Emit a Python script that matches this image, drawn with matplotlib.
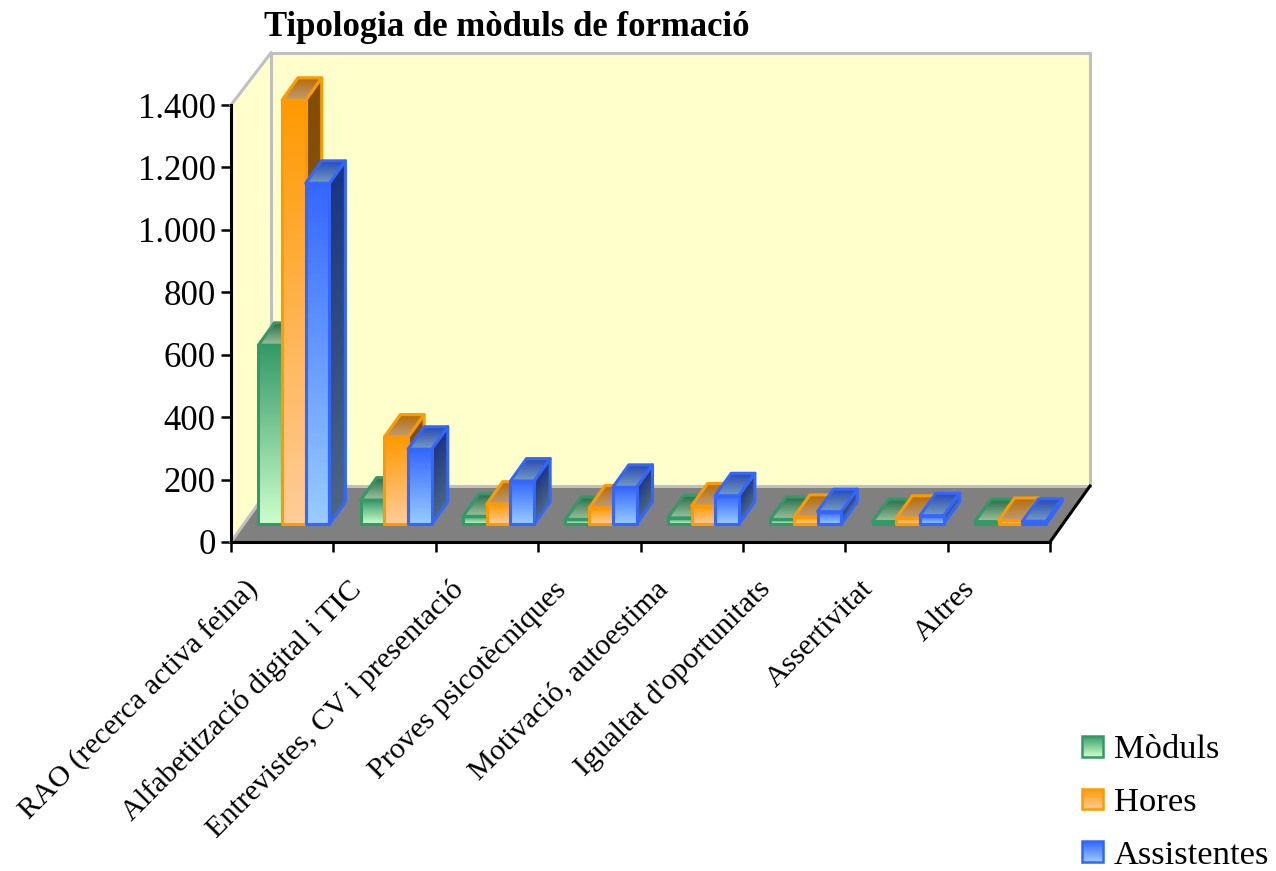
import numpy as np
import matplotlib
matplotlib.use("Agg")
import matplotlib.pyplot as plt
from matplotlib.collections import PolyCollection
from matplotlib.colors import to_rgb
from matplotlib.legend_handler import HandlerBase
from matplotlib.patches import Patch, Polygon
from matplotlib.transforms import ScaledTranslation

categories = ["RAO (recerca activa feina)", "Alfabetització digital i TIC",
              "Entrevistes, CV i presentació", "Proves psicotècniques",
              "Motivació, autoestima", "Igualtat d'oportunitats",
              "Assertivitat", "Altres"]
moduls = [573, 77, 25, 15, 20, 15, 8, 8]
hores = [1358, 279, 64, 52, 58, 22, 19, 12]
assistentes = [1092, 240, 138, 118, 91, 40, 27, 9]
series_names = ["Mòduls", "Hores", "Assistentes"]
series_values = [moduls, hores, assistentes]
main_colors = ["#339966", "#FF9900", "#3366FF"]
light_colors = ["#CCFFCC", "#FFCC99", "#99CCFF"]
y_ticks = [0, 200, 400, 600, 800, 1000, 1200, 1400]
y_labels = ["0", "200", "400", "600", "800", "1.000", "1.200", "1.400"]

plt.rcParams["font.family"] = ["Liberation Serif", "DejaVu Serif"]
W, H = 1276, 871
fig = plt.figure(figsize=(W / 100, H / 100), dpi=100)
ax = fig.add_axes([231 / W, (H - 542) / H, 819 / W, 437 / H])
ax.set_xlim(0, len(categories))
ax.set_ylim(0, 1400)
ax.patch.set_visible(False)

PX_X = len(categories) / 819
PX_Y = 1400 / 437
DX = 40 * PX_X
DY = 56 * PX_Y
BACK_TOP = 1388
D0, D1 = 0.32, 0.72
BAR_W = 23.7 * PX_X
MARGIN = 14.5 * PX_X
LW = 2.2


def proj(x, v, d):
    return (x + d * DX, v + d * DY)


def grad(p0, p1, q0, q1, c0, c1, zorder, trans=None, n=60):
    """Gradient quad: edge p0-p1 has colour c0, edge q0-q1 has colour c1."""
    p0, p1, q0, q1 = map(np.array, (p0, p1, q0, q1))
    c0, c1 = np.array(c0), np.array(c1)
    polys, cols = [], []
    for i in range(n):
        a, b = i / n, (i + 1) / n
        polys.append([p0 + (q0 - p0) * a, p1 + (q1 - p1) * a,
                      p1 + (q1 - p1) * b, p0 + (q0 - p0) * b])
        cols.append(c0 + (c1 - c0) * (a + b) / 2)
    pc = PolyCollection(polys, facecolors=cols, edgecolors=cols, linewidths=0.5,
                        zorder=zorder, clip_on=False, antialiaseds=False)
    if trans is not None:
        pc.set_transform(trans)
    return pc


# walls and floor
wall = "#FFFFCC"
edge = "#C0C0C0"
n = len(categories)
ax.add_patch(Polygon([proj(0, 0, 0), proj(0, 1400, 0), (DX, BACK_TOP + DY), proj(0, 0, 1)],
                     fc=wall, ec="none", clip_on=False, zorder=1))
ax.add_patch(Polygon([proj(0, 0, 1), (DX, BACK_TOP + DY), (n + DX, BACK_TOP + DY), proj(n, 0, 1)],
                     fc=wall, ec="none", clip_on=False, zorder=1))
ax.add_patch(Polygon([proj(0, 0, 0), proj(n, 0, 0), proj(n, 0, 1), proj(0, 0, 1)],
                     fc="#808080", ec="none", clip_on=False, zorder=2))
for a, b, c in [(proj(0, 1400, 0), (DX, BACK_TOP + DY), edge),
                ((DX, BACK_TOP + DY), (n + DX, BACK_TOP + DY), edge),
                ((DX, BACK_TOP + DY), proj(0, 0, 1), edge),
                ((n + DX, BACK_TOP + DY), proj(n, 0, 1), edge),
                (proj(0, 0, 1), proj(n, 0, 1), edge),
                (proj(0, 0, 0), proj(0, 0, 1), edge),
                (proj(n, 0, 0), proj(n, 0, 1), "black")]:
    ax.plot([a[0], b[0]], [a[1], b[1]], color=c, lw=LW, clip_on=False, zorder=2.5,
            solid_capstyle="projecting")

# bars
z = 3.0
for g in range(n):
    for s, values in enumerate(series_values):
        v = values[g]
        main = np.array(to_rgb(main_colors[s]))
        light = np.array(to_rgb(light_colors[s]))
        x0 = g + MARGIN + s * BAR_W
        x1 = x0 + BAR_W
        # side face
        ax.add_collection(grad(proj(x1, v, D0), proj(x1, v, D1), proj(x1, 0, D0), proj(x1, 0, D1),
                               main * 0.5, light * 0.5, z))
        ax.add_patch(Polygon([proj(x1, 0, D0), proj(x1, v, D0), proj(x1, v, D1), proj(x1, 0, D1)],
                             fc="none", ec=main_colors[s], lw=LW, clip_on=False, zorder=z + 0.01,
                             joinstyle="round"))
        # top face
        ax.add_collection(grad(proj(x0, v, D1), proj(x1, v, D1), proj(x0, v, D0), proj(x1, v, D0),
                               main * 0.7, light * 0.75, z + 0.02))
        ax.add_patch(Polygon([proj(x0, v, D0), proj(x1, v, D0), proj(x1, v, D1), proj(x0, v, D1)],
                             fc="none", ec=main_colors[s], lw=LW, clip_on=False, zorder=z + 0.03,
                             joinstyle="round"))
        # front face
        ax.add_collection(grad(proj(x0, v, D0), proj(x1, v, D0), proj(x0, 0, D0), proj(x1, 0, D0),
                               main, light, z + 0.04))
        ax.add_patch(Polygon([proj(x0, 0, D0), proj(x1, 0, D0), proj(x1, v, D0), proj(x0, v, D0)],
                             fc="none", ec=main_colors[s], lw=LW, clip_on=False, zorder=z + 0.05,
                             joinstyle="round"))
        z += 0.1

# axes
for sp in ("top", "right"):
    ax.spines[sp].set_visible(False)
for sp in ("left", "bottom"):
    ax.spines[sp].set_linewidth(LW)
    ax.spines[sp].set_zorder(50)
ax.set_yticks(y_ticks)
ax.set_yticklabels(y_labels, fontsize=25)
ax.tick_params(axis="y", length=7, width=1.8, pad=4)
ax.set_xticks(range(n + 1))
ax.set_xticklabels([])
ax.tick_params(axis="x", which="major", length=7, width=1.8)
ax.set_xticks(np.arange(n) + 0.5, minor=True)
ax.set_xticklabels(categories, minor=True, fontsize=21.7, rotation=45, ha="right",
                   rotation_mode="anchor", va="top")
ax.tick_params(axis="x", which="minor", length=0, pad=10)
shift = ScaledTranslation(-37 / 100, -20 / 100, fig.dpi_scale_trans)
for lab in ax.get_xticklabels(minor=True):
    lab.set_transform(lab.get_transform() + shift)

fig.text(507 / W, 1 - 27 / H, "Tipologia de mòduls de formació", fontsize=25,
         fontweight="bold", ha="center", va="center")


class GradHandler(HandlerBase):
    def __init__(self, c0, c1):
        super().__init__()
        self.c0, self.c1 = np.array(to_rgb(c0)), np.array(to_rgb(c1))

    def create_artists(self, legend, orig, xd, yd, width, height, fontsize, trans):
        s = 15
        x0, y0 = -xd + width - s, -yd + (height - s) / 2
        pc = grad((x0, y0 + s), (x0 + s, y0 + s), (x0, y0), (x0 + s, y0), self.c0, self.c1, 1, trans)
        box = Polygon([(x0, y0), (x0 + s, y0), (x0 + s, y0 + s), (x0, y0 + s)], fc="none",
                      ec=self.c0, lw=1.8, transform=trans)
        return [pc, box]


handles = [Patch(label=nm) for nm in series_names]
hmap = {h: GradHandler(main_colors[i], light_colors[i]) for i, h in enumerate(handles)}
fig.legend(handles=handles, labels=series_names, handler_map=hmap, frameon=False,
           fontsize=24.8, loc="upper left", bbox_to_anchor=(1055 / W, 1 - 717 / H),
           handlelength=1.0, handleheight=1.0, handletextpad=0.3, labelspacing=0.54,
           borderaxespad=0, borderpad=0.4)

fig.savefig("out.png", dpi=100)
